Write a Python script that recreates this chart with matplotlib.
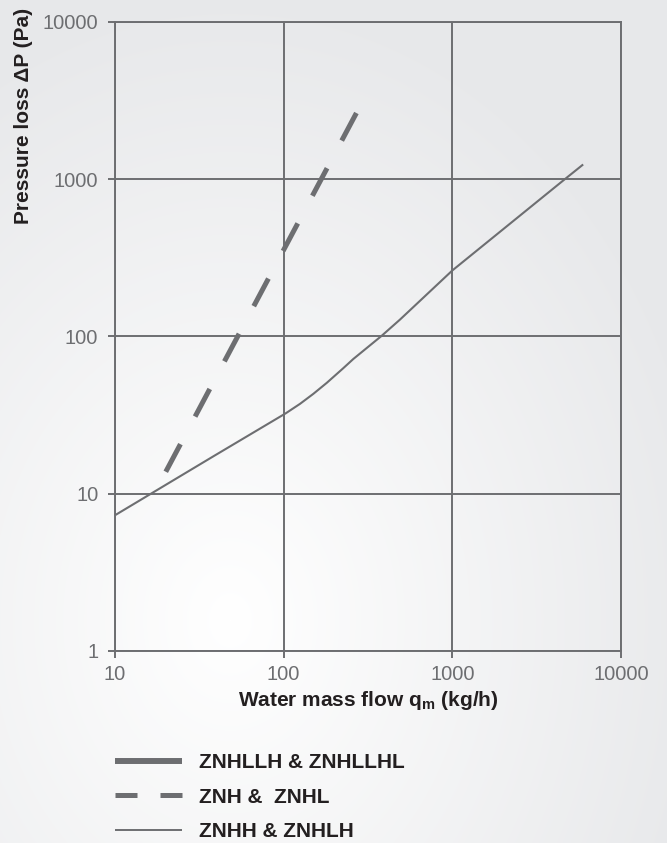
import numpy as np
import matplotlib
matplotlib.use("Agg")
from matplotlib import pyplot as plt
from matplotlib.lines import Line2D

plt.rcParams['font.family'] = ['Liberation Sans', 'DejaVu Sans']
plt.rcParams['mathtext.fontset'] = 'custom'
plt.rcParams['mathtext.rm'] = 'Liberation Sans:bold'

# curve values
flow_dashed = [20, 270]
dp_dashed = [13.8, 2640]

flow_thin = [10, 38.3, 103, 125, 150, 180, 225, 259, 381, 489, 1000, 4640, 5900]
dp_thin = [7.3, 17.3, 32.5, 37.3, 43.2, 50.7, 62.7, 72, 101, 128, 263, 1000, 1230]

x_ticks = [10, 100, 1000, 10000]
y_ticks = [1, 10, 100, 1000, 10000]

legend_labels = ['ZNHLLH & ZNHLLHL', 'ZNH &  ZNHL', 'ZNHH & ZNHLH']

grey = '#6d6e71'
dark = '#231f20'

W, H = 667, 843
fig = plt.figure(figsize=(W / 100, H / 100), dpi=100)

# background gradient
bg = fig.add_axes([0, 0, 1, 1], zorder=-10)
yy, xx = np.mgrid[0:H, 0:W]
d = np.hypot((xx - 230) / W, (yy - 620) / H)
v = np.clip(d / 0.75, 0, 1)
c0 = np.array([1.0, 1.0, 1.0])
c1 = np.array([0.906, 0.910, 0.918])
img = c0 + (c1 - c0) * v[..., None]
bg.imshow(img, aspect='auto', interpolation='bilinear')
bg.axis('off')

ax = fig.add_axes([115 / W, 1 - 651 / H, (621 - 115) / W, (651 - 22) / H])
ax.set_facecolor('none')
ax.set_xscale('log')
ax.set_yscale('log')
ax.set_xlim(10, 10000)
ax.set_ylim(1, 10000)

ax.plot(flow_dashed, dp_dashed, color=grey, lw=3.6, dashes=(6.25, 6.25),
        solid_capstyle='butt', dash_capstyle='butt')
ax.plot(flow_thin, dp_thin, color=grey, lw=1.5)

ax.set_xticks(x_ticks)
ax.set_xticklabels([str(t) for t in x_ticks])
ax.set_yticks(y_ticks)
ax.set_yticklabels([str(t) for t in y_ticks])
ax.minorticks_off()
ax.tick_params(axis='both', which='major', length=5, width=1.4, color=grey,
               labelcolor=grey, labelsize=14.5, direction='out')
ax.tick_params(axis='y', pad=7)
ax.tick_params(axis='x', pad=5)
ax.grid(True, which='major', color=grey, lw=1.4)
for s in ax.spines.values():
    s.set_color(grey)
    s.set_linewidth(1.4)

ax.set_xlabel(r'Water mass flow q$_\mathrm{m}$ (kg/h)', fontsize=15,
              fontweight='bold', color=dark, labelpad=4)
fig.text(24 / W, 1 - 116 / H, 'Pressure loss \u0394P (Pa)', rotation=90,
         ha='center', va='center', fontsize=15, fontweight='bold', color=dark)

handles = [
    Line2D([], [], color=grey, lw=4.3, solid_capstyle='butt'),
    Line2D([], [], color=grey, lw=3.6, dashes=(4.4, 4.6), dash_capstyle='butt'),
    Line2D([], [], color=grey, lw=1.4, solid_capstyle='butt'),
]
leg = fig.legend(handles, legend_labels, loc='upper left',
                 bbox_to_anchor=(115 / W, 1 - 753 / H), frameon=False,
                 borderpad=0, borderaxespad=0, handlelength=3.2,
                 handletextpad=0.85, labelspacing=0.75,
                 prop={'size': 15, 'weight': 'bold'})
for t in leg.get_texts():
    t.set_color(dark)

fig.savefig('out.png', dpi=100)
